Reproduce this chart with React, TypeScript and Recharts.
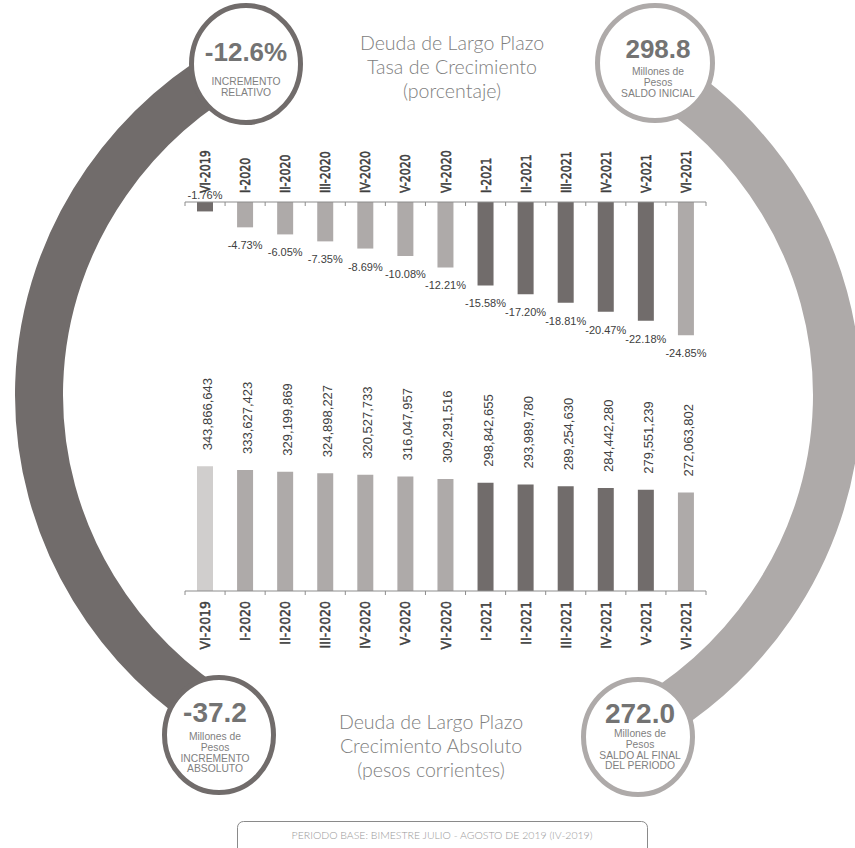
import React from 'react';
import { BarChart, Bar, XAxis, YAxis, Cell, LabelList } from 'recharts';

// ── Data ─────────────────────────────────────────────────────────────────────

const periods = [
  'VI-2019', 'I-2020', 'II-2020', 'III-2020', 'IV-2020', 'V-2020', 'VI-2020',
  'I-2021', 'II-2021', 'III-2021', 'IV-2021', 'V-2021', 'VI-2021',
];

// tasa de crecimiento (%)
const growthRate = [
  -1.76, -4.73, -6.05, -7.35, -8.69, -10.08, -12.21,
  -15.58, -17.2, -18.81, -20.47, -22.18, -24.85,
];

// saldo (pesos corrientes)
const balance = [
  343866643, 333627423, 329199869, 324898227, 320527733, 316047957, 309291516,
  298842655, 293989780, 289254630, 284442280, 279551239, 272063802,
];

const growthDomain = [-28, 0];
const balanceDomain = [0, 400000000];

// ── Styles ───────────────────────────────────────────────────────────────────

const DARK = '#716c6b';
const LIGHT = '#aeaaa9';
const PALE = '#d0cecd';
const AXIS = '#8c8c8c';
const TEXT = '#404040';
const SOFT = '#7f7f7f';

const growthColors = [DARK, LIGHT, LIGHT, LIGHT, LIGHT, LIGHT, LIGHT, DARK, DARK, DARK, DARK, DARK, LIGHT];
const balanceColors = [PALE, LIGHT, LIGHT, LIGHT, LIGHT, LIGHT, LIGHT, DARK, DARK, DARK, DARK, DARK, LIGHT];

const growthData = periods.map((p, i) => ({ period: p, rate: growthRate[i] }));
const balanceData = periods.map((p, i) => ({ period: p, balance: balance[i] }));

const W = 855;
const H = 848;
const PLOT_LEFT = 185;
const PLOT_RIGHT = 706;
const BAND = (PLOT_RIGHT - PLOT_LEFT) / periods.length;

const ARIAL = "'Liberation Sans', Arial, sans-serif";
const TICK_FONT = "'DejaVu Sans', Verdana, sans-serif";
const THIN = "Lato, 'Open Sans', sans-serif";

// ── Ticks & labels ───────────────────────────────────────────────────────────

function BoundaryTicks({ x, y, index }: any) {
  return (
    <>
      <line x1={x - BAND / 2} x2={x - BAND / 2} y1={y} y2={y + 4} stroke={AXIS} />
      {index === periods.length - 1 && (
        <line x1={x + BAND / 2} x2={x + BAND / 2} y1={y} y2={y + 4} stroke={AXIS} />
      )}
    </>
  );
}

const tickText = {
  fontFamily: TICK_FONT,
  fill: TEXT,
  stroke: TEXT,
  strokeWidth: 0.45,
};

function TopTick(props: any) {
  const { x, y, payload } = props;
  return (
    <g>
      <BoundaryTicks {...props} />
      <text
        transform={`translate(${x + 5}, ${y - 9}) rotate(-90) scale(1, 1.25)`}
        textAnchor="start"
        fontSize={11}
        {...tickText}
      >
        {payload.value}
      </text>
    </g>
  );
}

function BottomTick(props: any) {
  const { x, y, payload } = props;
  return (
    <g>
      <BoundaryTicks {...props} />
      <text
        transform={`translate(${x + 5}, ${y + 10}) rotate(-90) scale(1, 1.15)`}
        textAnchor="end"
        fontSize={12.5}
        {...tickText}
      >
        {payload.value}
      </text>
    </g>
  );
}

function RateLabel({ x, y, width, height, value }: any) {
  const cx = x + width / 2;
  const top = Math.min(y, y + height);
  const bottom = Math.max(y, y + height);
  // the smallest bar has its label sitting on the axis
  const ly = value > -3 ? top - 3 : bottom + 22;
  return (
    <text x={cx} y={ly} textAnchor="middle" fontFamily={ARIAL} fontSize={11} fill={TEXT}>
      {value.toFixed(2)}%
    </text>
  );
}

function BalanceLabel({ x, y, width, height, value }: any) {
  const cx = x + width / 2;
  const top = Math.min(y, y + height);
  return (
    <text
      transform={`translate(${cx + 7}, ${top - 16}) rotate(-90)`}
      textAnchor="start"
      fontFamily={ARIAL}
      fontSize={13}
      fill={TEXT}
    >
      {value.toLocaleString('en-US')}
    </text>
  );
}

// ── Decoration (ring, badges, titles) ────────────────────────────────────────

const RING = { cx: 438, cy: 395, rx: 399, ry: 383 };

function ringPoint(deg: number) {
  const t = (deg * Math.PI) / 180;
  return [RING.cx + RING.rx * Math.cos(t), RING.cy + RING.ry * Math.sin(t)];
}

function arcPath(from: number, to: number, sweep: 0 | 1) {
  const [x1, y1] = ringPoint(from);
  const [x2, y2] = ringPoint(to);
  return `M ${x1} ${y1} A ${RING.rx} ${RING.ry} 0 0 ${sweep} ${x2} ${y2}`;
}

function Badge({ cx, cy, rx, ry, color, value, valueSize, valueY, lines, firstLineY }: any) {
  return (
    <g>
      <ellipse cx={cx} cy={cy} rx={rx - 2.5} ry={ry - 2.5} fill="#fff" stroke={color} strokeWidth={5} />
      <text x={value.x} y={valueY} textAnchor="middle" fontFamily={ARIAL} fontWeight="bold" fontSize={valueSize} fill="#737373">
        {value.text}
      </text>
      {lines.map((l: string, i: number) => (
        <text key={i} x={value.x} y={firstLineY + i * 10.8} textAnchor="middle" fontFamily={ARIAL} fontSize={10.3} fill={SOFT}>
          {l}
        </text>
      ))}
    </g>
  );
}

function Decoration() {
  return (
    <svg width={W} height={H} style={{ position: 'absolute', left: 0, top: 0 }}>
      <path d={arcPath(241.5, 122, 0)} fill="none" stroke={DARK} strokeWidth={48} />
      <path d={arcPath(-58, 61, 1)} fill="none" stroke={LIGHT} strokeWidth={48} />

      <Badge cx={246} cy={64} rx={57} ry={61} color={DARK}
        value={{ x: 246, text: '-12.6%' }} valueSize={26} valueY={61}
        lines={['INCREMENTO', 'RELATIVO']} firstLineY={85} />
      <Badge cx={655} cy={63} rx={60} ry={60} color={LIGHT}
        value={{ x: 658, text: '298.8' }} valueSize={26} valueY={58}
        lines={['Millones de', 'Pesos', 'SALDO INICIAL']} firstLineY={75} />
      <Badge cx={219} cy={735} rx={57} ry={60} color={DARK}
        value={{ x: 215, text: '-37.2' }} valueSize={28} valueY={722}
        lines={['Millones de', 'Pesos', 'INCREMENTO', 'ABSOLUTO']} firstLineY={740} />
      <Badge cx={638} cy={737} rx={57} ry={60} color={LIGHT}
        value={{ x: 640, text: '272.0' }} valueSize={28} valueY={723}
        lines={['Millones de', 'Pesos', 'SALDO AL FINAL', 'DEL PERIODO']} firstLineY={737} />

      <g fontFamily={THIN} fontWeight={300} fontSize={19.6} fill="#808080" textAnchor="middle">
        <text x={452} y={50}>Deuda de Largo Plazo</text>
        <text x={452} y={74}>Tasa de Crecimiento</text>
        <text x={452} y={98}>(porcentaje)</text>
        <text x={431} y={729}>Deuda de Largo Plazo</text>
        <text x={431} y={753}>Crecimiento Absoluto</text>
        <text x={431} y={777}>(pesos corrientes)</text>
      </g>

      <rect x={237.5} y={821.5} width={410} height={40} rx={6} fill="#fff" stroke="#8a8a8a" />
      <text x={442} y={839} textAnchor="middle" fontFamily={THIN} fontWeight={300} fontSize={10.5} fill="#999">
        PERIODO BASE: BIMESTRE JULIO - AGOSTO DE 2019 (IV-2019)
      </text>
    </svg>
  );
}

// ── Charts ───────────────────────────────────────────────────────────────────

function GrowthChart() {
  // plot area: y 202 (axis, value 0) down to 352
  return (
    <div style={{ position: 'absolute', left: 0, top: 0 }}>
      <BarChart width={W} height={370} data={growthData} margin={{ top: 172, right: W - PLOT_RIGHT, bottom: 18, left: PLOT_LEFT }}>
        <XAxis
          dataKey="period"
          orientation="top"
          interval={0}
          tickSize={0}
          tickMargin={0}
          tickLine={false}
          axisLine={{ stroke: AXIS }}
          tick={<TopTick />}
        />
        <YAxis hide domain={growthDomain} allowDataOverflow />
        <Bar dataKey="rate" barSize={16} isAnimationActive={false}>
          {growthData.map((d, i) => (
            <Cell key={d.period} fill={growthColors[i]} />
          ))}
          <LabelList dataKey="rate" content={<RateLabel />} />
        </Bar>
      </BarChart>
    </div>
  );
}

function BalanceChart() {
  // plot area: y 446 down to 591 (axis)
  return (
    <div style={{ position: 'absolute', left: 0, top: 360 }}>
      <BarChart width={W} height={320} data={balanceData} margin={{ top: 86, right: W - PLOT_RIGHT, bottom: 59, left: PLOT_LEFT }}>
        <XAxis
          dataKey="period"
          interval={0}
          tickSize={0}
          tickMargin={0}
          tickLine={false}
          axisLine={{ stroke: AXIS }}
          tick={<BottomTick />}
        />
        <YAxis hide domain={balanceDomain} allowDataOverflow />
        <Bar dataKey="balance" barSize={16} isAnimationActive={false}>
          {balanceData.map((d, i) => (
            <Cell key={d.period} fill={balanceColors[i]} />
          ))}
          <LabelList dataKey="balance" content={<BalanceLabel />} />
        </Bar>
      </BarChart>
    </div>
  );
}

export default function App() {
  return (
    <div style={{ position: 'absolute', left: 0, top: 0, width: W, height: H, overflow: 'hidden', background: '#fff' }}>
      <Decoration />
      <GrowthChart />
      <BalanceChart />
    </div>
  );
}
